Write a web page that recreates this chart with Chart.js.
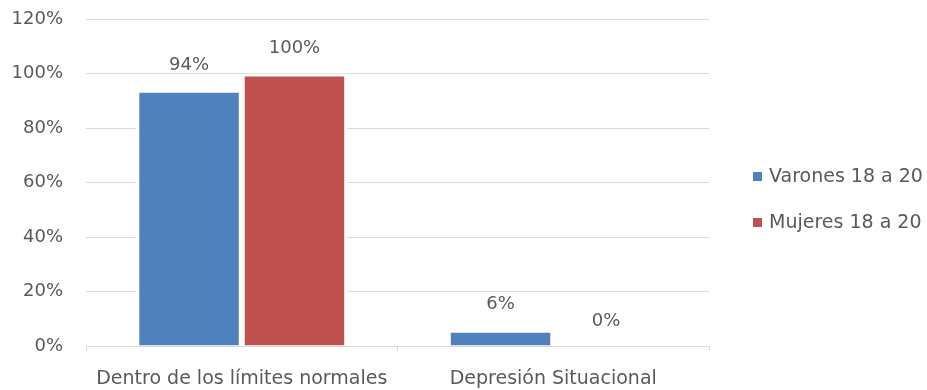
<!DOCTYPE html>
<html>
<head>
<meta charset="utf-8">
<script src="https://cdn.jsdelivr.net/npm/chart.js@4"></script>
<style>
  html, body { margin: 0; padding: 0; background: #ffffff; }
  #wrap { width: 927px; height: 390px; }
</style>
</head>
<body>
<div id="wrap"><canvas id="c" width="927" height="390"></canvas></div>
<script>
// Categories and series (percentages)
const categories = ["Dentro de los límites normales", "Depresión Situacional"];
const seriesNames = ["Varones 18 a 20", "Mujeres 18 a 20"];
const varones = [94, 6];
const mujeres = [100, 0];
const yTicks = [0, 20, 40, 60, 80, 100, 120];

const FONT = "'DejaVu Sans', sans-serif";
const NUM_SIZE = 18;   // percentages
const TXT_SIZE = 19;   // category and series names
const TEXT = "#595959";
const GRID = "#d9d9d9";

// Value labels placed above each bar
const valueLabels = {
  id: "valueLabels",
  afterDatasetsDraw(chart) {
    const ctx = chart.ctx;
    ctx.save();
    ctx.font = NUM_SIZE + "px " + FONT;
    ctx.fillStyle = TEXT;
    ctx.textAlign = "center";
    ctx.textBaseline = "middle";
    chart.data.datasets.forEach((ds, i) => {
      chart.getDatasetMeta(i).data.forEach((bar, j) => {
        ctx.fillText(ds.data[j] + "%", bar.x, bar.y - 25);
      });
    });
    ctx.restore();
  }
};

// Legend on the right, square markers
const sideLegend = {
  id: "sideLegend",
  afterDraw(chart) {
    const ctx = chart.ctx;
    ctx.save();
    ctx.font = TXT_SIZE + "px " + FONT;
    ctx.textBaseline = "middle";
    ctx.textAlign = "left";
    chart.data.datasets.forEach((ds, i) => {
      const y = 176 + i * 46;
      ctx.fillStyle = ds.backgroundColor;
      ctx.fillRect(753, y - 4, 9, 9);
      ctx.fillStyle = TEXT;
      ctx.fillText(ds.label, 769, y + 1);
    });
    ctx.restore();
  }
};

new Chart(document.getElementById("c"), {
  type: "bar",
  data: {
    labels: categories,
    datasets: [
      { label: seriesNames[0], data: varones, backgroundColor: "#4f81bd", borderColor: "#ffffff", borderWidth: 3 },
      { label: seriesNames[1], data: mujeres, backgroundColor: "#c0504d", borderColor: "#ffffff", borderWidth: 3 }
    ]
  },
  options: {
    responsive: false,
    animation: false,
    events: [],
    layout: { padding: { left: 0, right: 218, top: 19, bottom: 0 } },
    datasets: { bar: { categoryPercentage: 0.677, barPercentage: 1 } },
    plugins: {
      legend: { display: false },
      tooltip: { enabled: false }
    },
    scales: {
      x: {
        grid: { display: true, drawOnChartArea: false, drawTicks: true, tickLength: 5, color: GRID, offset: true },
        border: { display: true, color: GRID, width: 1 },
        ticks: { color: TEXT, font: { family: FONT, size: TXT_SIZE }, padding: 17, maxRotation: 0, autoSkip: false },
        afterFit(axis) { axis.height = 44; }
      },
      y: {
        min: 0,
        max: 120,
        afterBuildTicks(axis) { axis.ticks = yTicks.map(v => ({ value: v })); },
        grid: { color: GRID, lineWidth: 1, drawTicks: true, tickLength: 20, tickColor: "rgba(0,0,0,0)" },
        border: { display: false },
        ticks: { color: TEXT, font: { family: FONT, size: NUM_SIZE }, padding: 3, callback: v => v + "%" },
        afterFit(axis) { axis.width = 86; }
      }
    }
  },
  plugins: [valueLabels, sideLegend]
});
</script>
</body>
</html>
